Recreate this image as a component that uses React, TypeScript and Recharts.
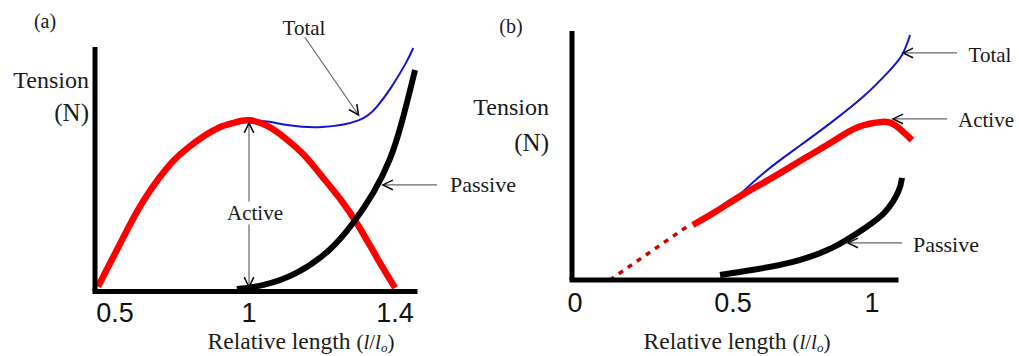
import React from 'react';
import { LineChart, Line, XAxis, YAxis, ReferenceLine } from 'recharts';

// ---------- Panel (a) data ----------
const activeLenA = [0.5, 0.55, 0.6, 0.65, 0.7, 0.75, 0.8, 0.85, 0.9, 0.95, 1.0, 1.05, 1.1, 1.15, 1.2, 1.25, 1.3, 1.35, 1.4];
const activeTenA = [2, 14, 26, 37, 46, 53.5, 59, 63.5, 67, 69, 70, 67.7, 62.6, 55.9, 47.1, 37.8, 26.8, 14, 1.5];
const totalLenA = [1.0, 1.05, 1.11, 1.2, 1.3, 1.35, 1.39, 1.43, 1.45];
const totalTenA = [70, 69.5, 68, 67.3, 70, 75.5, 83.6, 93.5, 99.6];
const passiveLenA = [0.96, 1.04, 1.13, 1.22, 1.285, 1.34, 1.385, 1.42, 1.455];
const passiveTenA = [1, 2.7, 7.6, 17, 28, 40.3, 53.8, 70, 90.6];
const ticksA = [0.5, 1, 1.4];

// ---------- Panel (b) data ----------
const extrapLenB = [0.11, 0.355];
const extrapTenB = [0, 21.5];
const activeLenB = [0.373, 0.443, 0.532, 0.64, 0.759, 0.856, 0.95, 1.036, 1.083, 1.144];
const activeTenB = [22.1, 27.3, 34.1, 41.0, 49.0, 55.4, 61.4, 63.5, 62.2, 56.2];
const totalLenB = [0.5, 0.615, 0.734, 0.856, 0.975, 1.058, 1.108, 1.137];
const totalTenB = [31.8, 43.4, 53.4, 63.5, 74.3, 83.5, 90.4, 98.4];
const passiveLenB = [0.459, 0.568, 0.712, 0.856, 0.975, 1.047, 1.094, 1.108];
const passiveTenB = [2.0, 4.0, 7.2, 12.9, 20.9, 27.3, 35.3, 41.0];
const ticksB = [0, 0.5, 1];

// annotation arrows (relative length, tension)
const arrowsA = [
  { from: [1, 1.8], to: [1, 68.9], both: true },
  { from: [1.153, 104], to: [1.3, 72.2], both: false },
  { from: [1.515, 43.6], to: [1.367, 43.6], both: false },
];
const arrowsB = [
  { from: [1.306, 91.2], to: [1.112, 91.2], both: false },
  { from: [1.27, 64.7], to: [1.076, 64.7], both: false },
  { from: [1.108, 14.9], to: [0.914, 14.9], both: false },
];

const zip = (xs: number[], ys: number[]) => xs.map((x, i) => ({ x, y: ys[i] }));

// schematic (piecewise-linear) axis scale: tick values sit at given fractions of the axis
function piecewiseScale(knots: number[], fracs: number[]): any {
  let dom: number[] = [0, 1];
  let rng: number[] = [0, 1];
  const toFrac = (v: number) => {
    const n = knots.length;
    let i = 0;
    if (v <= knots[0]) i = 0;
    else if (v >= knots[n - 1]) i = n - 2;
    else {
      while (i < n - 2 && v > knots[i + 1]) i++;
    }
    const t = (v - knots[i]) / (knots[i + 1] - knots[i]);
    return fracs[i] + t * (fracs[i + 1] - fracs[i]);
  };
  const s: any = (v: number) => rng[0] + toFrac(Number(v)) * (rng[1] - rng[0]);
  s.domain = (d?: number[]) => {
    if (d === undefined) return dom.slice();
    dom = d.slice();
    return s;
  };
  s.range = (r?: number[]) => {
    if (r === undefined) return rng.slice();
    rng = r.slice();
    return s;
  };
  s.copy = () => piecewiseScale(knots, fracs).domain(dom).range(rng);
  s.ticks = () => knots.slice();
  s.tickFormat = () => (v: number) => String(v);
  s.nice = () => s;
  return s;
}

const plotWA = 320;
const scaleA = piecewiseScale(ticksA, [3 / plotWA, 154 / plotWA, 300 / plotWA]);
const plotWB = 324;
const scaleB = piecewiseScale(ticksB, [3 / plotWB, 161 / plotWB, 300 / plotWB]);

const arrowShape = (both: boolean) => (props: any) => {
  const { x1, y1, x2, y2 } = props;
  const head = (tx: number, ty: number, fx: number, fy: number) => {
    const ang = Math.atan2(ty - fy, tx - fx);
    const L = 11;
    const a = 0.45;
    const p1x = tx - L * Math.cos(ang - a);
    const p1y = ty - L * Math.sin(ang - a);
    const p2x = tx - L * Math.cos(ang + a);
    const p2y = ty - L * Math.sin(ang + a);
    return (
      <path
        d={`M${p1x},${p1y} L${tx},${ty} L${p2x},${p2y}`}
        fill="none"
        stroke="#111"
        strokeWidth={1.6}
      />
    );
  };
  return (
    <g>
      <line x1={x1} y1={y1} x2={x2} y2={y2} stroke="#666" strokeWidth={1.2} />
      {head(x2, y2, x1, y1)}
      {both ? head(x1, y1, x2, y2) : null}
    </g>
  );
};

const SERIF = '"Liberation Serif", "Times New Roman", serif';
const SANS = '"Liberation Sans", Arial, sans-serif';

// first tick label of panel (a) sits right of its tick, clear of the vertical axis
const makeTick = (shiftFirst: number) => (props: any) => {
  const { x, y, payload, index } = props;
  return (
    <text
      x={x + (index === 0 ? shiftFirst : 0)}
      y={y}
      dy="0.71em"
      textAnchor="middle"
      fill="#111"
      fontSize={27}
      fontFamily={SANS}
    >
      {String(payload.value)}
    </text>
  );
};
const tickA = makeTick(17);
const tickB = makeTick(0);

const Txt = ({ x, y, size = 21, align = 'center', bg = false, children }: any) => {
  const tx = align === 'center' ? '-50%' : align === 'right' ? '-100%' : '0';
  return (
    <div
      style={{
        position: 'absolute',
        left: x,
        top: y,
        transform: `translate(${tx}, -50%)`,
        fontFamily: SERIF,
        fontSize: size,
        lineHeight: 1,
        color: '#1a1a1a',
        whiteSpace: 'nowrap',
        background: bg ? '#fff' : 'transparent',
        padding: bg ? '1px 0' : 0,
      }}
    >
      {children}
    </div>
  );
};

const RelLen = () => (
  <>
    Relative length{' '}
    <span style={{ fontSize: 21 }}>
      (<i>l</i>/<i>l</i>
      <span style={{ fontSize: 13, fontStyle: 'italic', verticalAlign: -3 }}>o</span>)
    </span>
  </>
);

const axisLineStyle = { stroke: '#000', strokeWidth: 5, strokeLinecap: 'square' as const };
const yAxisLineStyle = { stroke: '#000', strokeWidth: 5 };

export default function App() {
  return (
    <div style={{ position: 'absolute', left: 0, top: 0, width: 1019, height: 356, background: '#fff', overflow: 'hidden' }}>
      {/* Panel (a) */}
      <div style={{ position: 'absolute', left: 0, top: 0 }}>
        <LineChart width={460} height={356} margin={{ top: 47, left: 85, right: 45, bottom: 24.5 }}>
          <XAxis
            type="number"
            dataKey="x"
            scale={scaleA}
            domain={[0.49, 1.46]}
            ticks={ticksA}
            interval={0}
            axisLine={axisLineStyle}
            tickLine={false}
            tickSize={6}
            tickMargin={5}
            tick={tickA}
            height={40}
          />
          <YAxis type="number" domain={[0, 100]} tick={false} tickLine={false} width={10} axisLine={yAxisLineStyle} />
          <Line data={zip(totalLenA, totalTenA)} dataKey="y" type="natural" stroke="#1414cc" strokeWidth={2} dot={false} activeDot={false} isAnimationActive={false} />
          <Line data={zip(activeLenA, activeTenA)} dataKey="y" type="natural" stroke="#ff0000" strokeWidth={6.5} dot={false} activeDot={false} isAnimationActive={false} />
          <Line data={zip(passiveLenA, passiveTenA)} dataKey="y" type="natural" stroke="#000" strokeWidth={6} dot={false} activeDot={false} isAnimationActive={false} />
          {arrowsA.map((a, i) => (
            <ReferenceLine
              key={i}
              ifOverflow="visible"
              segment={[{ x: a.from[0], y: a.from[1] }, { x: a.to[0], y: a.to[1] }]}
              shape={arrowShape(a.both)}
            />
          ))}
        </LineChart>
      </div>

      {/* Panel (b) */}
      <div style={{ position: 'absolute', left: 440, top: 0 }}>
        <LineChart width={579} height={356} margin={{ top: 31, left: 122, right: 123, bottom: 36 }}>
          <XAxis
            type="number"
            dataKey="x"
            scale={scaleB}
            domain={[-0.01, 1.09]}
            ticks={ticksB}
            interval={0}
            axisLine={axisLineStyle}
            tickLine={false}
            tickSize={6}
            tickMargin={7}
            tick={tickB}
            height={40}
          />
          <YAxis type="number" domain={[0, 100]} tick={false} tickLine={false} width={10} axisLine={yAxisLineStyle} />
          <Line data={zip(totalLenB, totalTenB)} dataKey="y" type="natural" stroke="#1414cc" strokeWidth={2} dot={false} activeDot={false} isAnimationActive={false} />
          <Line data={zip(extrapLenB, extrapTenB)} dataKey="y" type="linear" stroke="#d40000" strokeWidth={3.5} strokeDasharray="5 6" dot={false} activeDot={false} isAnimationActive={false} />
          <Line data={zip(activeLenB, activeTenB)} dataKey="y" type="natural" stroke="#ff0000" strokeWidth={6.5} dot={false} activeDot={false} isAnimationActive={false} />
          <Line data={zip(passiveLenB, passiveTenB)} dataKey="y" type="natural" stroke="#000" strokeWidth={6} dot={false} activeDot={false} isAnimationActive={false} />
          {arrowsB.map((a, i) => (
            <ReferenceLine
              key={i}
              ifOverflow="visible"
              segment={[{ x: a.from[0], y: a.from[1] }, { x: a.to[0], y: a.to[1] }]}
              shape={arrowShape(a.both)}
            />
          ))}
        </LineChart>
      </div>

      {/* Panel (a) texts */}
      <Txt x={45} y={21} size={20}>(a)</Txt>
      <Txt x={89} y={80} size={24} align="right">Tension</Txt>
      <Txt x={89} y={112} size={25} align="right">(N)</Txt>
      <Txt x={304} y={28} size={21}>Total</Txt>
      <Txt x={255} y={213} size={21} bg>Active</Txt>
      <Txt x={483} y={185} size={22}>Passive</Txt>
      <Txt x={301} y={342} size={23.5}><RelLen /></Txt>

      {/* Panel (b) texts */}
      <Txt x={511} y={26} size={20}>(b)</Txt>
      <Txt x={549} y={107} size={24} align="right">Tension</Txt>
      <Txt x={549} y={142} size={25} align="right">(N)</Txt>
      <Txt x={990} y={55} size={21}>Total</Txt>
      <Txt x={986} y={120} size={21}>Active</Txt>
      <Txt x={946} y={245} size={22}>Passive</Txt>
      <Txt x={737} y={342} size={23.5}><RelLen /></Txt>
    </div>
  );
}
